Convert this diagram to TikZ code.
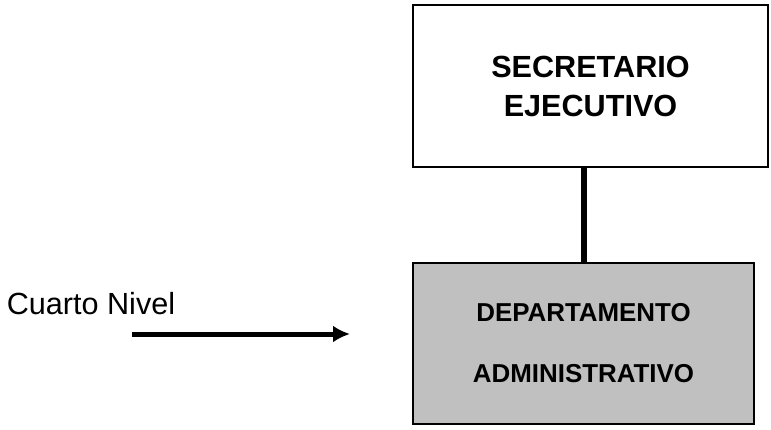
\documentclass[tikz,border=0pt]{standalone}
\usepackage{fontspec}
\setmainfont{Liberation Sans}
\usepackage{tikz}
\usetikzlibrary{positioning, arrows.meta}

\begin{document}
\begin{tikzpicture}[x=1pt, y=-1pt]
        \useasboundingbox (0,0) rectangle (771,430);

         % secretario
        \node[draw, line width=2pt, minimum width=355pt, minimum height=162pt, align=center,
              font=\bfseries\fontsize{30.6}{39}\selectfont] (sec) at (590.5,86)
              {SECRETARIO\\EJECUTIVO};

         % departamento
        \node[draw, line width=2pt, fill={rgb,255:red,192;green,192;blue,192},
              minimum width=341pt, minimum height=161pt, align=center,
              font=\bfseries\fontsize{25.9}{61}\selectfont] (dep) at (583.5,343.5)
              {\rule{0pt}{6pt}DEPARTAMENTO\\ADMINISTRATIVO};
        \draw[line width=6pt] (dep.north) -- (dep.north |- sec.south);

         % nivel
        \node (niv) at (91,304) {\fontsize{30.6}{34}\selectfont Cuarto Nivel};
        \coordinate (from) at (132,334);
        \coordinate (to) at (350,334);
        \draw[line width=5pt, -{Latex[length=17pt,width=17pt]}] (from) -- (to);
      \end{tikzpicture}
\end{document}
